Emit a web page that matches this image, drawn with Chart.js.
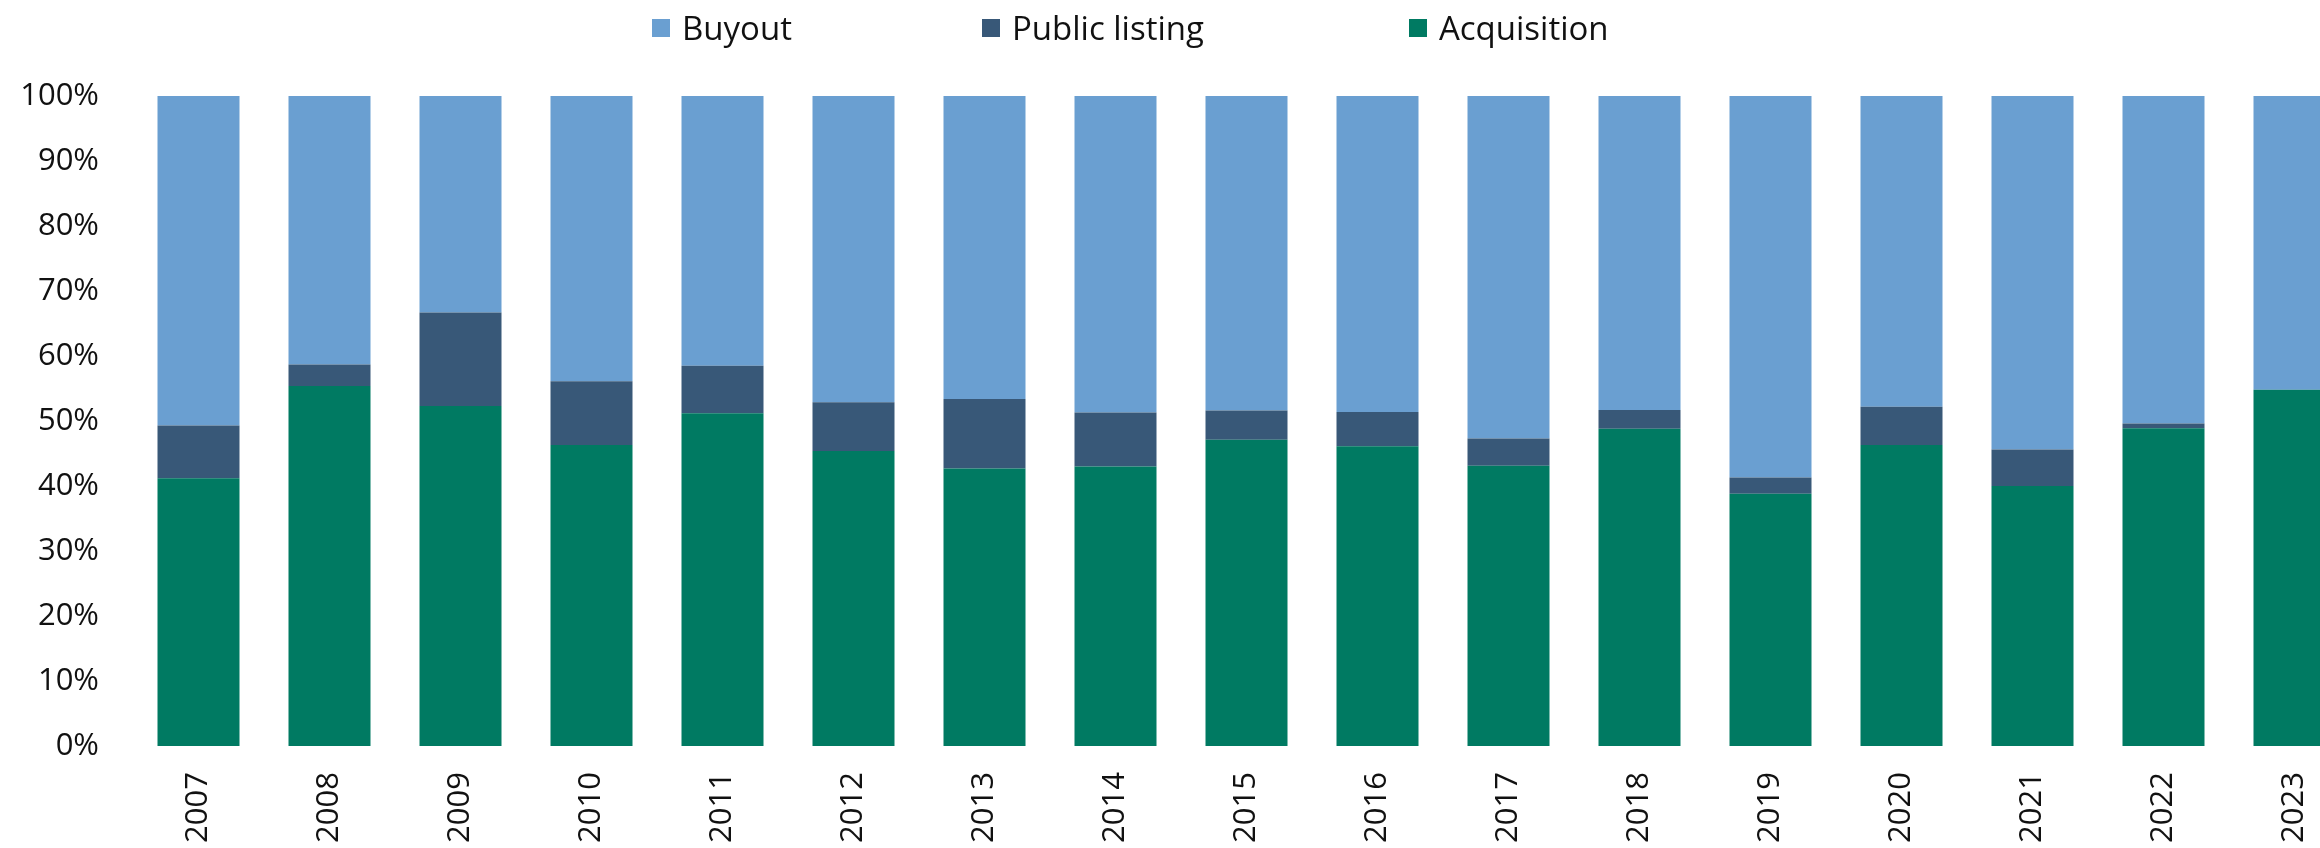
<!DOCTYPE html>
<html>
<head>
<meta charset="utf-8">
<script src="https://cdn.jsdelivr.net/npm/chart.js@4.4.1/dist/chart.umd.min.js"></script>
<style>
  html, body { margin: 0; padding: 0; background: #fff; overflow: hidden; }
  #wrap { position: relative; width: 2320px; height: 848px; overflow: hidden; }
  #exits { position: absolute; left: 0; top: 0; }
  #legend {
    position: absolute; top: 8px; left: 652px;
    display: flex;
    font-family: 'Open Sans', sans-serif; font-size: 33px; color: #111;
  }
  #legend .item { display: flex; align-items: center; line-height: 40px; }
  #legend .item + .item { margin-left: 190px; }
  #legend .item:last-child { margin-left: 205px; }
  #legend .swatch { width: 18px; height: 18px; margin-right: 12px; }
</style>
</head>
<body>
<div id="wrap">
  <canvas id="exits" width="2360" height="848"></canvas>
  <div id="legend"></div>
</div>
<script>
const years = ['2007', '2008', '2009', '2010', '2011', '2012', '2013', '2014', '2015',
               '2016', '2017', '2018', '2019', '2020', '2021', '2022', '2023'];

// share of exits by route, in %
const acquisition   = [41.2, 55.4, 52.3, 46.3, 51.2, 45.4, 42.7, 43.0, 47.1, 46.1, 43.1, 48.8, 38.8, 46.3, 40.0, 48.9, 54.8];
const publicListing = [8.1, 3.3, 14.4, 9.8, 7.3, 7.5, 10.7, 8.3, 4.5, 5.3, 4.2, 2.9, 2.5, 5.9, 5.6, 0.7, 0];
const buyout        = [50.7, 41.3, 33.3, 43.9, 41.5, 47.1, 46.6, 48.7, 48.4, 48.6, 52.7, 48.3, 58.7, 47.8, 54.4, 50.4, 45.2];

const colors = {
  acquisition: '#007a62',
  publicListing: '#385878',
  buyout: '#6a9fd1'
};

const axisFont = { family: "'Open Sans', sans-serif", size: 31 };

const bar = (label, data, color) => ({
  label: label,
  data: data,
  backgroundColor: color,
  borderWidth: 0,
  categoryPercentage: 1,
  barPercentage: 0.626
});

const chart = new Chart(document.getElementById('exits').getContext('2d'), {
  type: 'bar',
  data: {
    labels: years,
    datasets: [
      bar('Acquisition', acquisition, colors.acquisition),
      bar('Public listing', publicListing, colors.publicListing),
      bar('Buyout', buyout, colors.buyout)
    ]
  },
  options: {
    responsive: false,
    animation: false,
    devicePixelRatio: 1,
    layout: { padding: { left: 20, right: 0, top: 96, bottom: 5 } },
    plugins: {
      legend: { display: false },
      tooltip: { enabled: false }
    },
    scales: {
      x: {
        stacked: true,
        grid: { display: false, drawTicks: false },
        border: { display: false },
        ticks: {
          color: '#111',
          font: axisFont,
          padding: 26,
          minRotation: 90,
          maxRotation: 90,
          autoSkip: false
        },
        afterFit: s => { s.height = 97; }
      },
      y: {
        stacked: true,
        min: 0,
        max: 100,
        grid: { display: false, drawTicks: false },
        border: { display: false },
        ticks: {
          color: '#111',
          font: axisFont,
          padding: 34,
          stepSize: 10,
          callback: v => v + '%'
        },
        afterFit: s => { s.width = 113; }
      }
    }
  }
});

// legend lists the top of the stack first
const legendEl = document.getElementById('legend');
chart.data.datasets.slice().reverse().forEach(ds => {
  const item = document.createElement('div');
  item.className = 'item';
  const sw = document.createElement('span');
  sw.className = 'swatch';
  sw.style.background = ds.backgroundColor;
  const txt = document.createElement('span');
  txt.textContent = ds.label;
  item.appendChild(sw);
  item.appendChild(txt);
  legendEl.appendChild(item);
});
</script>
</body>
</html>
